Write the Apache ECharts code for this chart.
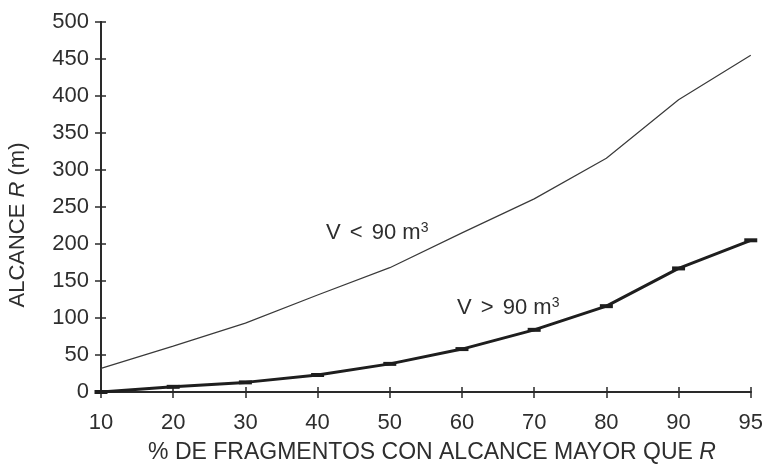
<!DOCTYPE html>
<html>
<head>
<meta charset="utf-8">
<script src="https://cdn.jsdelivr.net/npm/echarts@6/dist/echarts.min.js"></script>
<style>
  html, body { margin: 0; padding: 0; background: #fff; }
  #chart { width: 766px; height: 469px; }
</style>
</head>
<body>
<div id="chart"></div>
<script>
// Fragment throw range R versus percentage of fragments exceeding it
const categories = ['10', '20', '30', '40', '50', '60', '70', '80', '90', '95'];
const smallVolume = [32, 62, 93, 131, 168, 215, 261, 316, 395, 455];   // V < 90 m³
const largeVolume = [0, 7, 13, 23, 38, 58, 84, 116, 167, 205];        // V > 90 m³
const yTicks = { min: 0, max: 500, interval: 50 };

const FONT = '"Liberation Sans", Arial, sans-serif';
const INK = '#2a2a2a';
const TEXT = '#2e2e2e';

const chart = echarts.init(document.getElementById('chart'), null, { renderer: 'canvas' });

const baseX = {
  type: 'category',
  data: categories,
  boundaryGap: false,
  axisLine: { show: true, lineStyle: { color: INK, width: 2 } },
  splitLine: { show: false }
};
const baseY = {
  type: 'value',
  min: yTicks.min,
  max: yTicks.max,
  interval: yTicks.interval,
  axisLine: { show: true, lineStyle: { color: INK, width: 2 } },
  splitLine: { show: false }
};

const labelRich = {
  n: { fontFamily: FONT, fontSize: 22, fill: TEXT },
  op: { fontFamily: FONT, fontSize: 22, fill: TEXT, padding: [0, 3, 0, 3] },
  s: { fontFamily: FONT, fontSize: 14, fill: TEXT, verticalAlign: 'top', padding: [0, 0, 9, 0] }
};
const nameRich = {
  n: { fontFamily: FONT, fontSize: 23, fill: TEXT },
  i: { fontFamily: FONT, fontSize: 23, fill: TEXT, fontStyle: 'italic' }
};

chart.setOption({
  animation: false,
  backgroundColor: '#fff',
  grid: { left: 101, right: 12, top: 22, bottom: 77, containLabel: false },
  xAxis: [
    Object.assign({}, baseX, {
      axisTick: { show: true, inside: false, length: 6, alignWithLabel: true, lineStyle: { color: INK, width: 1.5 } },
      axisLabel: { color: TEXT, fontFamily: FONT, fontSize: 22, margin: 20 }
    }),
    // second copy only supplies the upper half of each crossing tick
    Object.assign({}, baseX, {
      position: 'bottom',
      axisTick: { show: true, inside: true, length: 5, lineStyle: { color: INK, width: 1.5 } },
      axisLabel: { show: false }
    })
  ],
  yAxis: [
    Object.assign({}, baseY, {
      axisTick: { show: true, inside: false, length: 6, lineStyle: { color: INK, width: 1.5 } },
      axisLabel: { color: TEXT, fontFamily: FONT, fontSize: 22, margin: 12 }
    }),
    Object.assign({}, baseY, {
      position: 'left',
      axisTick: { show: true, inside: true, length: 5, lineStyle: { color: INK, width: 1.5 } },
      axisLabel: { show: false }
    })
  ],
  series: [
    {
      name: 'V < 90 m³',
      type: 'line',
      data: smallVolume,
      showSymbol: false,
      symbol: 'none',
      lineStyle: { color: '#3a3a3a', width: 1.2 },
      z: 3
    },
    {
      name: 'V > 90 m³',
      type: 'line',
      data: largeVolume,
      symbol: 'rect',
      symbolSize: [13, 4],
      itemStyle: { color: '#1e1e1e' },
      lineStyle: { color: '#1e1e1e', width: 3 },
      z: 4
    }
  ],
  graphic: [
    {
      type: 'text',
      left: 326, top: 221,
      style: { text: '{n|V }{op|<}{n| 90 m}{s|3}', rich: labelRich }
    },
    {
      type: 'text',
      left: 457, top: 296,
      style: { text: '{n|V }{op|>}{n| 90 m}{s|3}', rich: labelRich }
    },
    {
      type: 'text',
      x: 432, y: 453,
      style: {
        text: '{n|% DE FRAGMENTOS CON ALCANCE MAYOR QUE }{i|R}',
        align: 'center', verticalAlign: 'middle',
        rich: nameRich
      }
    },
    {
      type: 'text',
      x: 18, y: 225,
      rotation: Math.PI / 2,
      style: {
        text: '{n|ALCANCE }{i|R}{n| (m)}',
        align: 'center', verticalAlign: 'middle',
        rich: {
          n: { fontFamily: FONT, fontSize: 22, fill: TEXT },
          i: { fontFamily: FONT, fontSize: 22, fill: TEXT, fontStyle: 'italic' }
        }
      }
    }
  ]
});
</script>
</body>
</html>
